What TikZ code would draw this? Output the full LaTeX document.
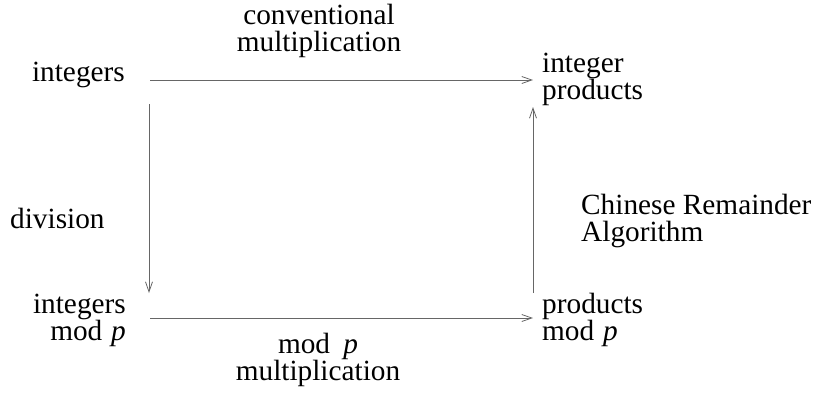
\documentclass[tikz,border=0pt]{standalone}
\usepackage{fontspec}
\setmainfont{Liberation Serif}
\usetikzlibrary{arrows.meta}
\newcommand\stackL[2]{\vtop{\baselineskip=#1\lineskiplimit=-100pt\halign{##\hfil\cr#2\crcr}}}
\newcommand\stackC[2]{\vtop{\baselineskip=#1\lineskiplimit=-100pt\halign{\hfil##\hfil\cr#2\crcr}}}
\newcommand\stackR[2]{\vtop{\baselineskip=#1\lineskiplimit=-100pt\halign{\hfil##\cr#2\crcr}}}
\begin{document}
\begin{tikzpicture}[x=1pt,y=-1pt,
  lbl/.style={inner sep=0pt, font=\fontsize{29.3}{27}\selectfont},
  arr/.style={draw=black!60, line width=0.8pt, -{Straight Barb[length=10pt,width=7pt]}}]
\useasboundingbox (0,0) rectangle (820,392);
\node[lbl, anchor=base east] (intA) at (125,81) {integers};
\node[lbl, anchor=base west] (prodA) at (542,72) {\stackL{27pt}{integer\cr products}};
\node[lbl, anchor=base] (conv) at (319,24) {\stackC{27pt}{conventional\cr multiplication}};
\node[lbl, anchor=base west] (div) at (10,228) {division};
\node[lbl, anchor=base west] (cra) at (581,214) {\stackL{27pt}{Chinese Remainder\cr Algorithm}};
\node[lbl, anchor=base east] (intB) at (126,313) {\stackR{27pt}{integers\cr mod\hspace{0.3em}\textit{p}}};
\node[lbl, anchor=base west] (prodB) at (542,313) {\stackL{27pt}{products\cr mod\hspace{0.3em}\textit{p}}};
\node[lbl, anchor=base] (modm) at (318,353) {\stackC{27pt}{mod\hspace{0.45em}\textit{p}\cr multiplication}};
\draw[arr] ([xshift=25pt,yshift=1pt]intA.base east) -- ([xshift=-9pt,yshift=-8pt]prodA.base west);
\draw[arr] ([xshift=24pt,yshift=-23pt]intA.base east) -- ([xshift=23pt,yshift=20pt]intB.base east);
\draw[arr] ([xshift=24pt,yshift=-5pt]intB.base east) -- ([xshift=-9pt,yshift=-5pt]prodB.base west);
\draw[arr] ([xshift=-9pt,yshift=20pt]prodB.base west) -- ([xshift=-9pt,yshift=-35pt]prodA.base west);
\end{tikzpicture}
\end{document}
